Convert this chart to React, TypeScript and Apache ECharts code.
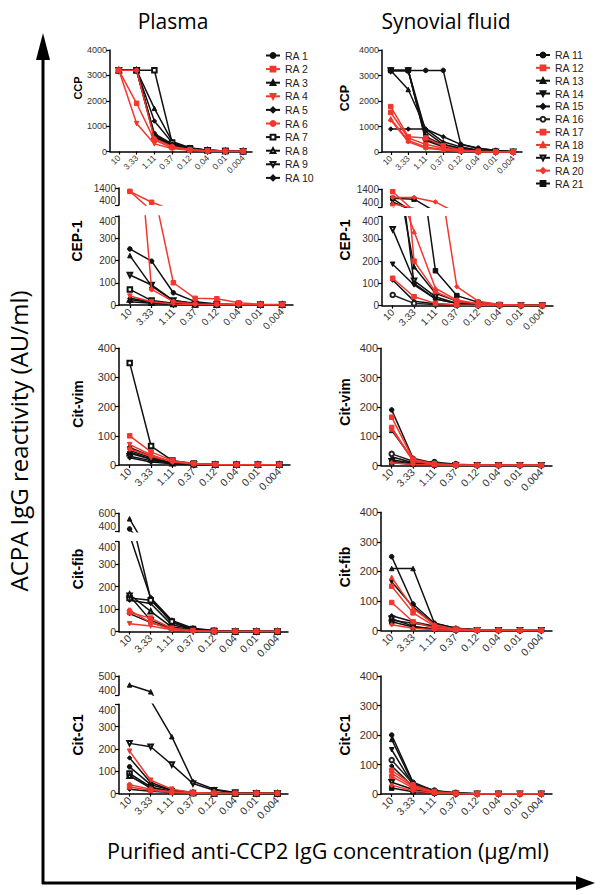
import React, { useEffect, useRef } from "react";
import * as echarts from "echarts";

// ---------- DATA ----------
const concentrations = ["10", "3.33", "1.11", "0.37", "0.12", "0.04", "0.01", "0.004"];
const plasmaPatients = ["RA 1", "RA 2", "RA 3", "RA 4", "RA 5", "RA 6", "RA 7", "RA 8", "RA 9", "RA 10"];
const synovialPatients = ["RA 11", "RA 12", "RA 13", "RA 14", "RA 15", "RA 16", "RA 17", "RA 18", "RA 19", "RA 20", "RA 21"];

// rows = patients, columns = concentrations
const ccpPlasma = [
  [3200, 3200, 700, 300, 100, 40, 15, 5],
  [3200, 1900, 450, 150, 60, 20, 8, 3],
  [3200, 3200, 1700, 400, 150, 50, 20, 8],
  [3200, 1100, 300, 120, 50, 15, 5, 2],
  [3200, 3200, 1200, 350, 120, 50, 20, 10],
  [3200, 3200, 500, 200, 80, 30, 10, 5],
  [3200, 3200, 3200, 350, 130, 50, 20, 10],
  [3200, 3200, 600, 250, 100, 40, 15, 8],
  [3200, 3200, 550, 220, 90, 35, 15, 5],
  [3200, 3200, 650, 280, 110, 45, 18, 6],
];
const ccpSynovial = [
  [3200, 3200, 3200, 3200, 300, 150, 60, 20],
  [1780, 600, 550, 250, 80, 30, 10, 5],
  [3200, 2450, 900, 400, 200, 80, 30, 10],
  [3200, 3200, 800, 300, 150, 60, 20, 8],
  [900, 900, 900, 600, 300, 150, 60, 20],
  [3200, 3200, 500, 250, 100, 40, 15, 5],
  [1550, 550, 300, 150, 60, 20, 8, 3],
  [1300, 450, 200, 100, 40, 15, 5, 2],
  [3200, 3200, 450, 200, 80, 30, 10, 5],
  [1250, 400, 150, 80, 30, 10, 5, 2],
  [3200, 3200, 600, 280, 120, 50, 20, 8],
];
const cep1Plasma = [
  [252, 197, 55, 15, 5, 2, 1, 1],
  [1200, 560, 100, 30, 28, 10, 3, 2],
  [222, 85, 20, 8, 3, 1, 1, 1],
  [40, 15, 5, 2, 1, 1, 1, 1],
  [30, 15, 8, 3, 1, 1, 1, 1],
  [1200, 70, 15, 5, 2, 1, 1, 1],
  [70, 20, 8, 3, 1, 1, 1, 1],
  [25, 10, 5, 2, 1, 1, 1, 1],
  [135, 90, 20, 5, 2, 1, 1, 1],
  [15, 8, 3, 1, 1, 1, 1, 1],
];
const cep1Synovial = [
  [880, 100, 30, 10, 3, 1, 1, 1],
  [1267, 200, 63, 20, 8, 3, 1, 1],
  [700, 175, 55, 20, 5, 2, 1, 1],
  [186, 93, 30, 10, 3, 1, 1, 1],
  [115, 20, 8, 3, 1, 1, 1, 1],
  [48, 10, 5, 2, 1, 1, 1, 1],
  [123, 40, 10, 3, 1, 1, 1, 1],
  [600, 333, 78, 25, 8, 3, 1, 1],
  [343, 112, 40, 10, 3, 1, 1, 1],
  [950, 950, 700, 85, 20, 5, 2, 1],
  [900, 850, 157, 45, 15, 5, 2, 1],
];
const citVimPlasma = [
  [60, 30, 10, 3, 1, 1, 1, 1],
  [100, 45, 15, 5, 2, 1, 1, 1],
  [50, 25, 8, 3, 1, 1, 1, 1],
  [70, 35, 10, 3, 1, 1, 1, 1],
  [45, 20, 8, 2, 1, 1, 1, 1],
  [55, 30, 12, 4, 1, 1, 1, 1],
  [350, 65, 15, 5, 2, 1, 1, 1],
  [40, 20, 6, 2, 1, 1, 1, 1],
  [30, 15, 5, 2, 1, 1, 1, 1],
  [25, 10, 4, 1, 1, 1, 1, 1],
];
const citVimSynovial = [
  [190, 25, 8, 3, 1, 1, 1, 1],
  [165, 22, 6, 2, 1, 1, 1, 1],
  [120, 20, 6, 2, 1, 1, 1, 1],
  [30, 10, 4, 1, 1, 1, 1, 1],
  [20, 8, 3, 1, 1, 1, 1, 1],
  [40, 15, 12, 5, 2, 1, 1, 1],
  [130, 18, 5, 2, 1, 1, 1, 1],
  [125, 15, 5, 1, 1, 1, 1, 1],
  [15, 5, 2, 1, 1, 1, 1, 1],
  [10, 4, 2, 1, 1, 1, 1, 1],
  [10, 5, 2, 1, 1, 1, 1, 1],
];
const citFibPlasma = [
  [430, 150, 50, 15, 5, 2, 1, 1],
  [85, 60, 15, 5, 2, 1, 1, 1],
  [540, 145, 40, 10, 3, 1, 1, 1],
  [35, 25, 8, 3, 1, 1, 1, 1],
  [140, 125, 30, 10, 3, 1, 1, 1],
  [95, 40, 10, 3, 1, 1, 1, 1],
  [150, 140, 45, 12, 4, 1, 1, 1],
  [165, 90, 20, 8, 2, 1, 1, 1],
  [160, 50, 15, 5, 2, 1, 1, 1],
  [80, 40, 12, 4, 1, 1, 1, 1],
];
const citFibSynovial = [
  [250, 90, 25, 8, 3, 1, 1, 1],
  [150, 60, 15, 5, 2, 1, 1, 1],
  [210, 210, 25, 8, 3, 1, 1, 1],
  [165, 80, 20, 5, 2, 1, 1, 1],
  [50, 30, 15, 5, 2, 1, 1, 1],
  [35, 25, 15, 5, 2, 1, 1, 1],
  [95, 30, 8, 3, 1, 1, 1, 1],
  [180, 75, 20, 5, 2, 1, 1, 1],
  [40, 15, 5, 2, 1, 1, 1, 1],
  [20, 8, 3, 1, 1, 1, 1, 1],
  [30, 12, 5, 2, 1, 1, 1, 1],
];
const citC1Plasma = [
  [120, 40, 15, 5, 2, 1, 1, 1],
  [30, 15, 5, 2, 1, 1, 1, 1],
  [453, 417, 255, 55, 20, 5, 2, 1],
  [190, 60, 20, 5, 2, 1, 1, 1],
  [160, 50, 15, 5, 2, 1, 1, 1],
  [40, 20, 8, 3, 1, 1, 1, 1],
  [90, 30, 10, 3, 1, 1, 1, 1],
  [80, 25, 10, 3, 1, 1, 1, 1],
  [225, 210, 130, 45, 15, 5, 2, 1],
  [20, 10, 5, 2, 1, 1, 1, 1],
];
const citC1Synovial = [
  [200, 40, 10, 3, 1, 1, 1, 1],
  [80, 30, 8, 2, 1, 1, 1, 1],
  [185, 35, 10, 3, 1, 1, 1, 1],
  [150, 30, 8, 2, 1, 1, 1, 1],
  [95, 25, 6, 2, 1, 1, 1, 1],
  [115, 35, 12, 4, 1, 1, 1, 1],
  [60, 20, 5, 2, 1, 1, 1, 1],
  [70, 25, 6, 2, 1, 1, 1, 1],
  [40, 15, 4, 1, 1, 1, 1, 1],
  [30, 10, 3, 1, 1, 1, 1, 1],
  [20, 8, 3, 1, 1, 1, 1, 1],
];

// ---------- STYLES / LAYOUT ----------
const RED = "#f2372f";
const BLACK = "#111111";
const FONT = "Arial, 'Liberation Sans', sans-serif";
const TITLE_FONT = "'Open Sans', 'Noto Sans', sans-serif";

type Sty = { color: string; symbol: string; rotate?: number };
const plasmaStyles: Sty[] = [
  { color: BLACK, symbol: "circle" },
  { color: RED, symbol: "rect" },
  { color: BLACK, symbol: "triangle" },
  { color: RED, symbol: "triangle", rotate: 180 },
  { color: BLACK, symbol: "diamond" },
  { color: RED, symbol: "circle" },
  { color: BLACK, symbol: "emptyRect" },
  { color: BLACK, symbol: "emptyTriangle" },
  { color: BLACK, symbol: "emptyTriangle", rotate: 180 },
  { color: BLACK, symbol: "diamond" },
];
const synovialStyles: Sty[] = [
  { color: BLACK, symbol: "circle" },
  { color: RED, symbol: "rect" },
  { color: BLACK, symbol: "triangle" },
  { color: BLACK, symbol: "triangle", rotate: 180 },
  { color: BLACK, symbol: "diamond" },
  { color: "#222", symbol: "emptyCircle" },
  { color: RED, symbol: "rect" },
  { color: RED, symbol: "triangle" },
  { color: BLACK, symbol: "emptyTriangle", rotate: 180 },
  { color: RED, symbol: "diamond" },
  { color: BLACK, symbol: "rect" },
];

type Panel = {
  label: string;
  data: number[][];
  names: string[];
  styles: Sty[];
  left: number;
  width: number;
  top: number;
  height: number;
  max: number;
  interval: number;
  upper?: { top: number; height: number; min: number; max: number; interval: number };
  yFont: number;
  xFont: number;
  nameX: number;
  nameY: number;
  nameFont: number;
};

const panels: Panel[] = [
  { label: "CCP", data: ccpPlasma, names: plasmaPatients, styles: plasmaStyles, left: 110, width: 142, top: 50, height: 101.5, max: 4000, interval: 1000, yFont: 9, xFont: 8.5, nameX: 78, nameY: 88, nameFont: 11 },
  { label: "CCP", data: ccpSynovial, names: synovialPatients, styles: synovialStyles, left: 382, width: 140, top: 50, height: 102, max: 4000, interval: 1000, yFont: 9, xFont: 8.5, nameX: 345, nameY: 98, nameFont: 12.5 },
  { label: "CEP-1", data: cep1Plasma, names: plasmaPatients, styles: plasmaStyles, left: 119, width: 174, top: 216, height: 89, max: 400, interval: 100, upper: { top: 188, height: 17, min: 400, max: 1400, interval: 1000 }, yFont: 10, xFont: 10, nameX: 77, nameY: 241, nameFont: 14 },
  { label: "CEP-1", data: cep1Synovial, names: synovialPatients, styles: synovialStyles, left: 382, width: 171, top: 216.7, height: 88.9, max: 400, interval: 100, upper: { top: 189.3, height: 18, min: 400, max: 1400, interval: 1000 }, yFont: 10, xFont: 10, nameX: 345, nameY: 240, nameFont: 14 },
  { label: "Cit-vim", data: citVimPlasma, names: plasmaPatients, styles: plasmaStyles, left: 119, width: 171, top: 348.3, height: 116.7, max: 400, interval: 100, yFont: 11, xFont: 10.5, nameX: 78, nameY: 404, nameFont: 14 },
  { label: "Cit-vim", data: citVimSynovial, names: synovialPatients, styles: synovialStyles, left: 381, width: 171, top: 348.3, height: 117.3, max: 400, interval: 100, yFont: 11, xFont: 10.5, nameX: 345, nameY: 402, nameFont: 14 },
  { label: "Cit-fib", data: citFibPlasma, names: plasmaPatients, styles: plasmaStyles, left: 119, width: 169, top: 541.7, height: 89.9, max: 400, interval: 100, upper: { top: 513.3, height: 18.4, min: 400, max: 600, interval: 200 }, yFont: 10.5, xFont: 10.5, nameX: 78, nameY: 569, nameFont: 14 },
  { label: "Cit-fib", data: citFibSynovial, names: synovialPatients, styles: synovialStyles, left: 381, width: 171, top: 512.3, height: 118.3, max: 400, interval: 100, yFont: 11, xFont: 10.5, nameX: 345, nameY: 567, nameFont: 14 },
  { label: "Cit-C1", data: citC1Plasma, names: plasmaPatients, styles: plasmaStyles, left: 119, width: 169, top: 704.3, height: 89.3, max: 400, interval: 100, upper: { top: 676, height: 19, min: 400, max: 500, interval: 100 }, yFont: 10.5, xFont: 10.5, nameX: 78, nameY: 735, nameFont: 14 },
  { label: "Cit-C1", data: citC1Synovial, names: synovialPatients, styles: synovialStyles, left: 381, width: 171, top: 676, height: 118, max: 400, interval: 100, yFont: 11, xFont: 10.5, nameX: 345, nameY: 735, nameFont: 14 },
];

function buildOption() {
  const grid: any[] = [];
  const xAxis: any[] = [];
  const yAxis: any[] = [];
  const series: any[] = [];
  const graphic: any[] = [];

  panels.forEach((p) => {
    const broken = !!p.upper;
    const addGrid = (top: number, height: number, min: number, max: number, interval: number, isUpper: boolean) => {
      const gi = grid.length;
      grid.push({ left: p.left, top, width: p.width, height, containLabel: false, outerBoundsMode: "none" });
      xAxis.push({
        type: "category",
        gridIndex: gi,
        data: concentrations,
        boundaryGap: true,
        show: !isUpper,
        axisLine: { show: true, onZero: false, lineStyle: { color: "#000", width: 1.5 } },
        axisTick: { show: true, alignWithLabel: true, length: 3, lineStyle: { color: "#000", width: 1.2 } },
        axisLabel: { rotate: 45, interval: 0, fontSize: p.xFont, color: "#333", margin: 5, fontFamily: FONT },
      });
      const axisLabel: any = {
        fontSize: p.yFont,
        color: "#333",
        margin: 3,
        fontFamily: FONT,
        formatter: (v: number) => String(v),
      };
      if (broken && isUpper) axisLabel.verticalAlignMinLabel = "bottom";
      if (broken && !isUpper) axisLabel.verticalAlignMaxLabel = "top";
      yAxis.push({
        type: "value",
        gridIndex: gi,
        min,
        max,
        interval,
        axisLine: { show: true, lineStyle: { color: "#000", width: 1.5 } },
        axisTick: { show: true, length: 4, lineStyle: { color: "#000", width: 1.2 } },
        splitLine: { show: false },
        axisLabel,
      });
      p.names.forEach((n, i) => {
        const st = p.styles[i];
        series.push({
          type: "line",
          name: n,
          xAxisIndex: gi,
          yAxisIndex: gi,
          data: p.data[i],
          clip: true,
          symbol: st.symbol,
          symbolRotate: st.rotate || 0,
          symbolSize: 4.5,
          showAllSymbol: true,
          lineStyle: { color: st.color, width: 1.5 },
          itemStyle: { color: st.color, borderColor: st.color, borderWidth: 1 },
          emphasis: { disabled: true },
          z: st.color === RED ? 3 : 2,
        });
      });
    };
    addGrid(p.top, p.height, 0, p.max, p.interval, false);
    if (p.upper) addGrid(p.upper.top, p.upper.height, p.upper.min, p.upper.max, p.upper.interval, true);
    graphic.push({
      type: "text",
      x: p.nameX,
      y: p.nameY,
      rotation: Math.PI / 2,
      style: { text: p.label, fontSize: p.nameFont, fontWeight: "bold", fontFamily: FONT, fill: "#000", align: "center", verticalAlign: "middle" },
    });
  });

  // titles
  graphic.push({ type: "text", x: 173, y: 21, style: { text: "Plasma", fontSize: 21, fontFamily: TITLE_FONT, fill: "#000", align: "center", verticalAlign: "middle" } });
  graphic.push({ type: "text", x: 446, y: 21, style: { text: "Synovial fluid", fontSize: 21, fontFamily: TITLE_FONT, fill: "#000", align: "center", verticalAlign: "middle" } });
  graphic.push({ type: "text", x: 18, y: 441, rotation: Math.PI / 2, style: { text: "ACPA IgG reactivity (AU/ml)", fontSize: 24, fontFamily: TITLE_FONT, fill: "#000", align: "center", verticalAlign: "middle" } });
  graphic.push({ type: "text", x: 328, y: 850, style: { text: "Purified anti-CCP2 IgG concentration (µg/ml)", fontSize: 21.5, fontFamily: TITLE_FONT, fill: "#000", align: "center", verticalAlign: "middle" } });
  // arrows
  graphic.push({ type: "line", shape: { x1: 43, y1: 58, x2: 43, y2: 884 }, style: { stroke: "#000", lineWidth: 3 } });
  graphic.push({ type: "polygon", shape: { points: [[36, 60], [50, 60], [43, 33]] }, style: { fill: "#000" } });
  graphic.push({ type: "line", shape: { x1: 42, y1: 883, x2: 578, y2: 883 }, style: { stroke: "#000", lineWidth: 3 } });
  graphic.push({ type: "polygon", shape: { points: [[576, 876], [576, 890], [595, 883]] }, style: { fill: "#000" } });

  const legendBase = {
    orient: "vertical",
    itemWidth: 14,
    itemHeight: 6,
    selectedMode: false,
    textStyle: { fontSize: 10.5, color: "#222", fontFamily: FONT },
  };

  return {
    animation: false,
    backgroundColor: "#fff",
    grid,
    xAxis,
    yAxis,
    series,
    graphic,
    legend: [
      { ...legendBase, data: plasmaPatients, left: 260, top: 45, itemGap: 2.6 },
      { ...legendBase, data: synovialPatients, left: 530, top: 44.5, itemGap: 1.85 },
    ],
  };
}

export default function App() {
  const ref = useRef<HTMLDivElement>(null);
  useEffect(() => {
    if (!ref.current) return;
    const chart = echarts.init(ref.current, undefined, { renderer: "svg" });
    chart.setOption(buildOption() as any);
    return () => chart.dispose();
  }, []);
  return <div ref={ref} style={{ position: "absolute", left: 0, top: 0, width: 600, height: 895, background: "#fff" }} />;
}
